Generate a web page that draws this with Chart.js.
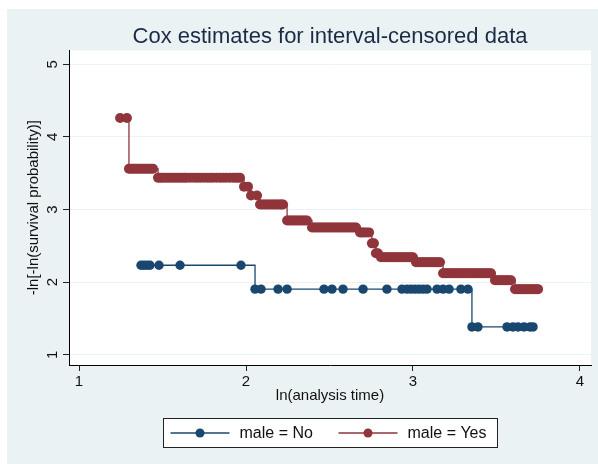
<!DOCTYPE html>
<html>
<head>
<meta charset="utf-8">
<script src="https://cdn.jsdelivr.net/npm/chart.js@4/dist/chart.umd.min.js"></script>
<style>
  html, body { margin: 0; padding: 0; background: #fff; }
  canvas { display: block; }
</style>
</head>
<body>
<canvas id="chart" width="598" height="464"></canvas>
<script>
// step estimates: ln(analysis time) vs -ln[-ln(S)]
// one level per step, with the event times that sit on it
const noLevel = [2.233, 1.904, 1.384];
const noTimes = [
  [1.371, 1.389, 1.407, 1.425, 1.479, 1.605, 1.970],
  [2.054, 2.090, 2.192, 2.246, 2.467, 2.515, 2.581, 2.701, 2.844, 2.934, 2.964,
   2.988, 3.012, 3.036, 3.060, 3.084, 3.144, 3.180, 3.216, 3.287, 3.329],
  [3.353, 3.389, 3.563, 3.599, 3.629, 3.665, 3.701, 3.719],
];

const yesLevel = [4.260, 3.562, 3.438, 3.315, 3.192, 3.068, 2.849, 2.753,
  2.685, 2.534, 2.397, 2.342, 2.274, 2.123, 2.027, 1.904];
const yesTimes = [
  [1.246, 1.287],
  [1.299, 1.311, 1.323, 1.335, 1.347, 1.359, 1.371, 1.383, 1.395, 1.407, 1.419, 1.431, 1.443],
  [1.473, 1.485, 1.497, 1.512, 1.527, 1.542, 1.557, 1.572, 1.587, 1.602, 1.617, 1.632, 1.647,
   1.668, 1.689, 1.707, 1.725, 1.745, 1.766, 1.784, 1.802, 1.823, 1.844, 1.862, 1.880, 1.901,
   1.922, 1.937, 1.952, 1.964],
  [1.988, 2.012],
  [2.030, 2.066],
  [2.084, 2.096, 2.108, 2.120, 2.132, 2.144, 2.156, 2.168, 2.180, 2.192, 2.204, 2.213, 2.222],
  [2.246, 2.258, 2.269, 2.281, 2.293, 2.305, 2.317, 2.329, 2.341, 2.353, 2.365],
  [2.395, 2.407, 2.419, 2.431, 2.443, 2.455, 2.467, 2.479, 2.491, 2.503, 2.515, 2.527, 2.539,
   2.551, 2.563, 2.575, 2.587, 2.599, 2.611, 2.623, 2.635, 2.647, 2.659],
  [2.683, 2.695, 2.707, 2.722, 2.737],
  [2.754, 2.766],
  [2.778, 2.790],
  [2.808, 2.820, 2.832, 2.844, 2.856, 2.868, 2.880, 2.892, 2.904, 2.916, 2.928, 2.940, 2.952,
   2.964, 2.976, 2.988, 3.000],
  [3.018, 3.030, 3.042, 3.054, 3.066, 3.078, 3.090, 3.102, 3.114, 3.126, 3.138, 3.150, 3.162],
  [3.180, 3.192, 3.204, 3.216, 3.228, 3.240, 3.251, 3.263, 3.275, 3.287, 3.299, 3.311, 3.323,
   3.335, 3.347, 3.359, 3.371, 3.383, 3.395, 3.407, 3.419, 3.431, 3.443, 3.455, 3.467],
  [3.491, 3.503, 3.515, 3.527, 3.539, 3.551, 3.563, 3.575, 3.587],
  [3.611, 3.623, 3.635, 3.647, 3.659, 3.671, 3.683, 3.695, 3.707, 3.719, 3.731, 3.740, 3.749],
];

const seriesNames = ["male = No", "male = Yes"];
const xTicks = [1, 2, 3, 4];
const yTicks = [1, 2, 3, 4, 5];

const BLUE = "#1a476f";
const RED = "#90353b";
const FONT = '"Liberation Sans", Arial, sans-serif';

function toPoints(levels, times) {
  const pts = [];
  levels.forEach((lv, i) => {
    times[i].forEach((t) => pts.push({ x: t, y: lv }));
  });
  return pts;
}

// grey outer area + white plot region
const backdrop = {
  id: "backdrop",
  beforeDraw(chart) {
    const c = chart.ctx;
    const a = chart.chartArea;
    c.save();
    c.fillStyle = "#ffffff";
    c.fillRect(0, 0, chart.width, chart.height);
    c.fillStyle = "#eaf2f3";
    c.fillRect(7, 9, chart.width - 7, chart.height - 9);
    c.fillStyle = "#ffffff";
    c.fillRect(a.left, a.top, a.right - a.left, a.bottom - a.top);
    c.restore();
  },
};

// stata writes the y labels turned on their side
const yLabels = {
  id: "yLabels",
  afterDraw(chart) {
    const c = chart.ctx;
    const ys = chart.scales.y;
    c.save();
    c.font = "15px " + FONT;
    c.fillStyle = "#111";
    c.textAlign = "center";
    c.textBaseline = "middle";
    yTicks.forEach((v) => {
      c.save();
      c.translate(ys.right - 16, ys.getPixelForValue(v));
      c.rotate(-Math.PI / 2);
      c.fillText(String(v), 0, 0);
      c.restore();
    });
    c.restore();
  },
};

const boxLegend = {
  id: "boxLegend",
  afterDraw(chart) {
    const c = chart.ctx;
    const a = chart.chartArea;
    const w = 334, h = 29;
    const left = Math.round((a.left + a.right) / 2 - w / 2) + 0.5;
    const top = Math.round(chart.scales.x.bottom + 13) + 0.5;
    const mid = top + h / 2;
    c.save();
    c.fillStyle = "#fff";
    c.fillRect(left, top, w, h);
    c.strokeStyle = "#222";
    c.lineWidth = 1;
    c.strokeRect(left, top, w, h);
    c.font = "16px " + FONT;
    c.textBaseline = "middle";
    c.textAlign = "left";
    [BLUE, RED].forEach((col, i) => {
      const x0 = left + 7 + i * 168;
      c.strokeStyle = col;
      c.lineWidth = 1.3;
      c.beginPath();
      c.moveTo(x0, mid);
      c.lineTo(x0 + 59, mid);
      c.stroke();
      c.fillStyle = col;
      c.beginPath();
      c.arc(x0 + 29.5, mid, 4.5, 0, Math.PI * 2);
      c.fill();
      c.fillStyle = "#111";
      c.fillText(seriesNames[i], x0 + 69, mid + 1);
    });
    c.restore();
  },
};

const ctx = document.getElementById("chart").getContext("2d");

new Chart(ctx, {
  type: "scatter",
  data: {
    datasets: [
      {
        label: seriesNames[0],
        data: toPoints(noLevel, noTimes),
        showLine: true,
        stepped: true,
        borderColor: BLUE,
        backgroundColor: BLUE,
        borderWidth: 1.3,
        pointRadius: 4.7,
        pointBorderWidth: 0,
      },
      {
        label: seriesNames[1],
        data: toPoints(yesLevel, yesTimes),
        showLine: true,
        stepped: true,
        borderColor: RED,
        backgroundColor: RED,
        borderWidth: 1.3,
        pointRadius: 5,
        pointBorderWidth: 0,
      },
    ],
  },
  options: {
    responsive: false,
    animation: false,
    layout: { padding: { left: 0, right: 7, top: 0, bottom: 59 } },
    plugins: {
      legend: { display: false },
      tooltip: { enabled: false },
      title: {
        display: true,
        fullSize: false,
        text: "Cox estimates for interval-censored data",
        color: "#1c2b45",
        font: { family: FONT, size: 22, weight: "normal" },
        padding: { top: 24, bottom: 0 },
      },
    },
    scales: {
      x: {
        type: "linear",
        min: 0.94,
        max: 4.066,
        afterBuildTicks: (s) => { s.ticks = xTicks.map((v) => ({ value: v })); },
        afterFit: (s) => { s.height = 40; },
        grid: { drawOnChartArea: false, tickLength: 6, tickColor: "#222" },
        border: { color: "#000", width: 1 },
        ticks: { padding: 2, color: "#111", font: { family: FONT, size: 15 } },
        title: {
          display: true,
          text: "ln(analysis time)",
          color: "#111",
          font: { family: FONT, size: 15 },
          padding: 0,
        },
      },
      y: {
        type: "linear",
        min: 0.86,
        max: 5.19,
        afterBuildTicks: (s) => { s.ticks = yTicks.map((v) => ({ value: v })); },
        afterFit: (s) => { s.width = 69; },
        grid: { color: "#eaf2f3", tickLength: 6, tickColor: "#222" },
        border: { color: "#000", width: 1 },
        ticks: { display: false },
        title: {
          display: true,
          text: "-ln[-ln(survival probability)]",
          color: "#111",
          font: { family: FONT, size: 15 },
          padding: { top: 25, bottom: 0 },
        },
      },
    },
  },
  plugins: [backdrop, yLabels, boxLegend],
});
</script>
</body>
</html>
